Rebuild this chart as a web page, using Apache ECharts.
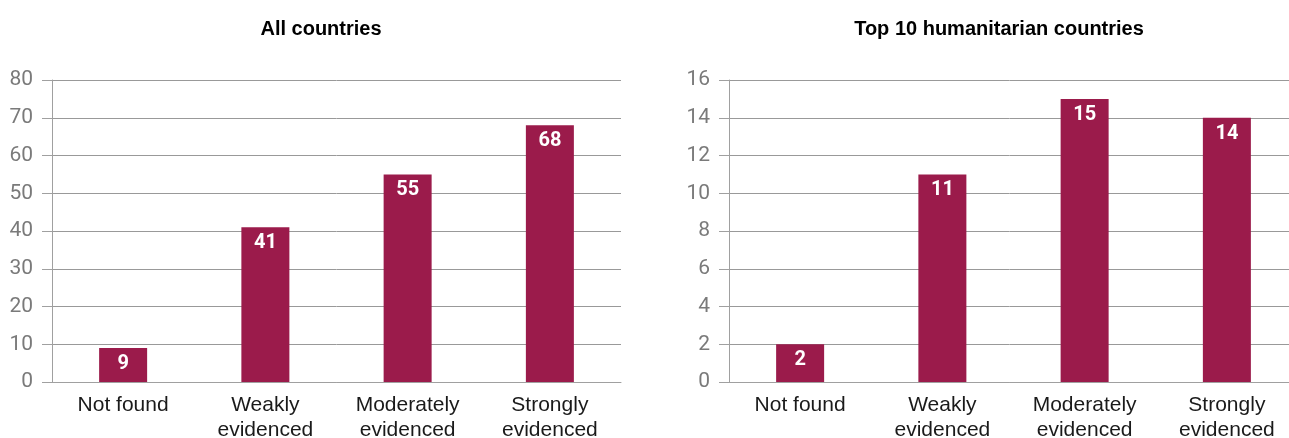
<!DOCTYPE html>
<html><head><meta charset="utf-8">
<script src="https://cdn.jsdelivr.net/npm/echarts@6/dist/echarts.min.js"></script>
<style>html,body{margin:0;padding:0;background:#fff}#c{width:1289px;height:438px}</style>
</head><body><div id="c"></div>
<script>
const categories = ['Not found', 'Weakly\nevidenced', 'Moderately\nevidenced', 'Strongly\nevidenced'];
const allCountries = [9, 41, 55, 68];
const top10 = [2, 11, 15, 14];
const titles = ['All countries', 'Top 10 humanitarian countries'];
const narrow = "Roboto, sans-serif";
const sans = "'Liberation Sans', Arial, sans-serif";
const barColor = '#9B1B4B';

const chart = echarts.init(document.getElementById('c'));
function xAxis(i) {
  return {
    type: 'category', gridIndex: i, data: categories,
    axisLine: { lineStyle: { color: '#a0a0a0', width: 1 } },
    axisTick: { show: false },
    axisLabel: { color: '#1a1a1a', fontSize: 21, fontFamily: sans, lineHeight: 25, margin: 11 }
  };
}
function yAxis(i, max, interval) {
  return {
    type: 'value', gridIndex: i, min: 0, max: max, interval: interval,
    axisLine: { show: true, lineStyle: { color: '#a0a0a0' } },
    axisTick: { show: true, length: 10, lineStyle: { color: '#a0a0a0' } },
    splitLine: { lineStyle: { color: '#999999', width: 1 } },
    axisLabel: { color: '#7a7a7a', fontSize: 21, fontFamily: narrow, margin: 19 }
  };
}
function series(i, data) {
  return {
    type: 'bar', xAxisIndex: i, yAxisIndex: i, data: data, barWidth: 48,
    itemStyle: { color: barColor },
    label: { show: true, position: 'insideTop', distance: 6, color: '#ffffff', fontSize: 20, fontWeight: 'bold', fontFamily: narrow },
    silent: true, animation: false
  };
}
const titleStyle = { fontSize: 20, fontWeight: 'bold', color: '#000', fontFamily: sans };
chart.setOption({
  animation: false,
  title: [
    { text: titles[0], left: 316, top: 14, textAlign: 'center', textStyle: titleStyle },
    { text: titles[1], left: 994, top: 14, textAlign: 'center', textStyle: titleStyle }
  ],
  grid: [
    { left: 52, top: 80, width: 569, height: 302, outerBoundsMode: 'none', containLabel: false },
    { left: 729, top: 80, width: 569, height: 302, outerBoundsMode: 'none', containLabel: false }
  ],
  xAxis: [xAxis(0), xAxis(1)],
  yAxis: [yAxis(0, 80, 10), yAxis(1, 16, 2)],
  series: [series(0, allCountries), series(1, top10)]
});
</script></body></html>
